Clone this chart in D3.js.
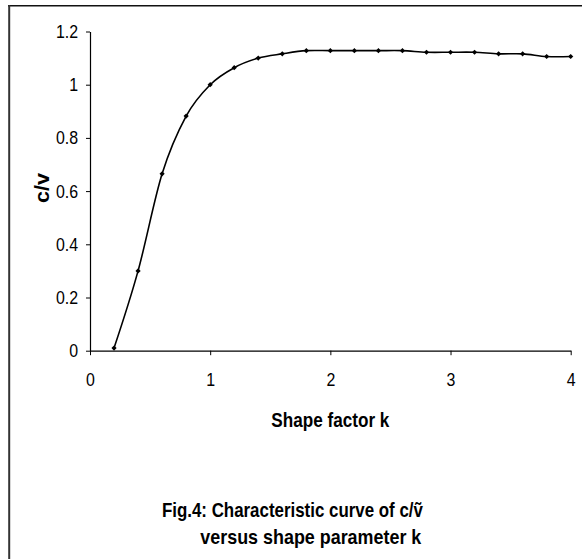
<!DOCTYPE html>
<html>
<head>
<meta charset="utf-8">
<script src="https://cdn.jsdelivr.net/npm/d3@7"></script>
<style>
  html, body { margin: 0; padding: 0; background: #fff; }
  svg { display: block; }
  text { font-family: "Liberation Sans", Arial, sans-serif; fill: #000; }
</style>
</head>
<body>
<svg id="chart" width="587" height="559"></svg>
<script>
// ---- data ----
const kValues = [0.2, 0.4, 0.6, 0.8, 1.0, 1.2, 1.4, 1.6, 1.8, 2.0, 2.2, 2.4, 2.6, 2.8, 3.0, 3.2, 3.4, 3.6, 3.8, 4.0];
const cvValues = [0.01, 0.30, 0.665, 0.882, 1.0, 1.064, 1.10, 1.116, 1.128, 1.128, 1.128, 1.128, 1.128, 1.122, 1.122, 1.122, 1.116, 1.116, 1.106, 1.106];
const xTicks = [0, 1, 2, 3, 4];
const yTicks = [0, 0.2, 0.4, 0.6, 0.8, 1, 1.2];
const xTitle = "Shape factor k";
const yTitle = "c/v";
const captionLines = ["Fig.4: Characteristic curve of c/\u1E7D", "versus shape parameter k"];

const svg = d3.select("#chart");

// frame (cropped figure border: top and left only)
svg.append("line").attr("x1", 8).attr("x2", 582).attr("y1", 5.7).attr("y2", 5.7)
  .attr("stroke", "#111").attr("stroke-width", 1.4);
svg.append("line").attr("x1", 9.2).attr("x2", 9.2).attr("y1", 5).attr("y2", 559)
  .attr("stroke", "#333").attr("stroke-width", 2);

const x = d3.scaleLinear().domain([0, 4]).range([90, 570.7]);
const y = d3.scaleLinear().domain([0, 1.2]).range([350.7, 31.5]);

const fmt = d => String(+d.toFixed(1));

const gx = svg.append("g").attr("transform", `translate(0,${y(0)})`)
  .call(d3.axisBottom(x).tickValues(xTicks).tickFormat(fmt).tickSize(4.5).tickSizeOuter(0).tickPadding(18));
const gy = svg.append("g").attr("transform", `translate(${x(0)},0)`)
  .call(d3.axisLeft(y).tickValues(yTicks).tickFormat(fmt).tickSize(4).tickSizeOuter(0).tickPadding(8));

[gx, gy].forEach(g => {
  g.select(".domain").attr("stroke", "#000").attr("stroke-width", 1.2);
  g.selectAll(".tick line").attr("stroke", "#000").attr("stroke-width", 1);
  g.selectAll(".tick text").attr("font-family", "'Liberation Sans', Arial, sans-serif")
    .attr("font-size", 18.5).attr("fill", "#000")
    .each(function () {
      const w = this.getComputedTextLength();
      d3.select(this).attr("textLength", w * 0.86).attr("lengthAdjust", "spacingAndGlyphs");
    });
});

// line
const pts = kValues.map((k, i) => [k, cvValues[i]]);
const line = d3.line().x(d => x(d[0])).y(d => y(d[1])).curve(d3.curveCardinal.tension(0));
svg.append("path").datum(pts).attr("d", line)
  .attr("fill", "none").attr("stroke", "#000").attr("stroke-width", 1.6);

// diamond markers
svg.append("g").selectAll("path").data(pts).join("path")
  .attr("transform", d => `translate(${x(d[0])},${y(d[1])})`)
  .attr("d", "M0,-2.6L2.6,0L0,2.6L-2.6,0Z")
  .attr("fill", "#000");

// axis titles
svg.append("text").attr("x", (x(0) + x(4)) / 2).attr("y", 426.5)
  .attr("text-anchor", "middle").attr("font-weight", "bold").attr("font-size", 19.5)
  .attr("textLength", 118).attr("lengthAdjust", "spacingAndGlyphs")
  .text(xTitle);

svg.append("text").attr("transform", "translate(49,188) rotate(-90)")
  .attr("text-anchor", "middle").attr("font-weight", "bold").attr("font-size", 21)
  .attr("textLength", 30).attr("lengthAdjust", "spacingAndGlyphs")
  .text(yTitle);

// caption
svg.append("text").attr("x", 292.4).attr("y", 516.5)
  .attr("text-anchor", "middle").attr("font-weight", "bold").attr("font-size", 21)
  .attr("textLength", 261).attr("lengthAdjust", "spacingAndGlyphs")
  .text(captionLines[0]);
svg.append("text").attr("x", 310.8).attr("y", 544)
  .attr("text-anchor", "middle").attr("font-weight", "bold").attr("font-size", 21)
  .attr("textLength", 221).attr("lengthAdjust", "spacingAndGlyphs")
  .text(captionLines[1]);
</script>
</body>
</html>
